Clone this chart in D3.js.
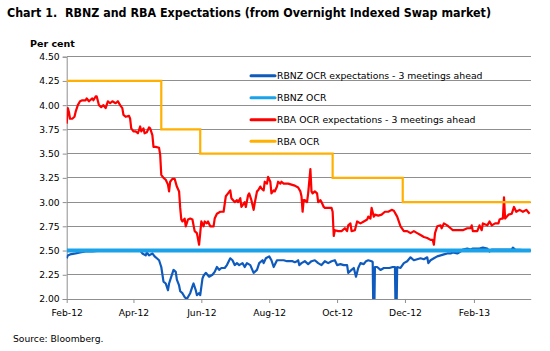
<!DOCTYPE html>
<html><head><meta charset="utf-8">
<script src="https://cdn.jsdelivr.net/npm/d3@7/dist/d3.min.js"></script>
<style>body{margin:0;background:#fff}svg{display:block}text{font-family:"DejaVu Sans",Verdana,sans-serif;fill:#000}</style>
</head><body><svg id="c" width="550" height="351"></svg>
<script>
// Dates are given as days since 1 Feb 2012
const startDate = "2012-02-01";
const endDay = 417;
const yTicks = [2.00, 2.25, 2.50, 2.75, 3.00, 3.25, 3.50, 3.75, 4.00, 4.25, 4.50];
const xTickDates = ["2012-02-01","2012-04-01","2012-06-01","2012-08-01","2012-10-01","2012-12-01","2013-02-01"];
const xTickLabels = ["Feb-12","Apr-12","Jun-12","Aug-12","Oct-12","Dec-12","Feb-13"];
const seriesNames = ["RBNZ OCR expectations - 3 meetings ahead","RBNZ OCR","RBA OCR expectations - 3 meetings ahead","RBA OCR"];
const seriesColors = ["#0f5bbd","#1ba3ea","#ff0000","#ffb000"];

const rbnzExpDays = [0,1,3,8,12,17,23,30,66,68,71,72,74,77,79,81,83,85,87,89,91,92,94,96,98,99,101,102,104,106,108,109,111,113,114,116,117,119,120,122,123,125,128,131,133,135,137,139,142,144,147,149,151,153,155,158,160,162,165,168,171,173,176,177,179,182,184,186,189,192,195,198,203,205,207,208,209,211,214,217,220,223,226,229,232,235,238,241,243,246,249,252,253,256,258,260,262,264,267,269,271,274,275,276,277,279,282,285,288,290,293,295,296,297,300,303,306,309,312,315,318,321,324,325,327,330,333,336,339,342,345,347,351,354,356,360,363,365,369,371,374,378,380,382,385,394,400,401,403,417];
const rbnzExpVals = [2.42,2.45,2.46,2.47,2.48,2.49,2.49,2.50,2.50,2.47,2.45,2.48,2.45,2.47,2.44,2.42,2.40,2.33,2.18,2.16,2.09,2.16,2.23,2.30,2.28,2.20,2.14,2.08,2.06,2.02,2.00,2.02,2.06,2.13,2.16,2.09,2.04,2.06,2.04,2.21,2.24,2.27,2.23,2.25,2.28,2.33,2.30,2.32,2.32,2.35,2.42,2.40,2.35,2.37,2.35,2.37,2.33,2.37,2.35,2.27,2.30,2.37,2.40,2.37,2.42,2.44,2.40,2.33,2.40,2.40,2.40,2.39,2.39,2.38,2.39,2.40,2.35,2.37,2.39,2.36,2.39,2.40,2.37,2.35,2.39,2.37,2.39,2.40,2.35,2.36,2.35,2.35,2.27,2.30,2.32,2.23,2.32,2.37,2.36,2.39,2.40,2.39,2.38,1.50,2.33,2.33,2.30,2.32,2.32,2.32,2.33,2.33,1.50,2.33,2.32,2.37,2.39,2.43,2.40,2.41,2.42,2.41,2.43,2.37,2.40,2.42,2.44,2.45,2.46,2.47,2.47,2.48,2.47,2.49,2.51,2.52,2.51,2.52,2.52,2.52,2.53,2.52,2.49,2.51,2.51,2.51,2.51,2.53,2.51,2.50];

const rbnzOcrDays = [0,417];
const rbnzOcrVals = [2.50,2.50];

const rbaExpDays = [0,1,2,3,5,7,8,10,12,14,17,18,20,23,24,26,27,29,31,33,35,37,39,41,44,46,48,50,51,53,56,57,58,60,62,64,66,67,69,70,72,74,75,77,78,80,83,84,85,87,89,91,92,93,95,97,99,101,102,103,104,106,107,109,111,113,115,117,119,120,121,123,124,126,127,129,132,133,135,138,141,143,145,147,148,151,153,154,156,157,160,161,163,164,166,168,169,171,172,174,175,177,178,180,181,183,184,186,187,189,190,192,193,195,196,199,202,205,208,210,211,212,213,214,216,217,219,220,221,223,225,226,228,229,231,232,235,238,239,240,241,244,247,250,252,253,255,256,259,261,264,267,270,271,273,274,276,277,280,283,286,289,292,294,297,300,303,306,309,312,315,318,321,324,327,329,330,331,333,336,337,339,342,345,347,351,354,356,360,363,364,365,369,371,373,374,378,380,382,385,388,389,391,392,393,394,397,400,402,404,407,410,413,416];
const rbaExpVals = [3.81,3.97,3.93,3.86,3.86,3.88,3.93,4.00,4.04,4.05,4.05,4.07,4.04,4.07,4.05,4.09,4.09,4.00,3.98,4.00,3.97,4.04,4.02,4.04,4.02,4.04,4.00,3.97,3.90,3.88,3.89,3.86,3.76,3.73,3.73,3.71,3.78,3.73,3.76,3.71,3.72,3.77,3.76,3.69,3.57,3.57,3.56,3.49,3.28,3.25,3.23,3.18,3.11,3.21,3.24,3.24,3.16,3.11,2.94,2.82,2.80,2.83,2.75,2.82,2.83,2.82,2.70,2.68,2.56,2.68,2.80,2.75,2.80,2.78,2.80,2.75,2.75,2.83,2.88,2.90,2.90,3.06,3.09,3.12,3.04,3.00,3.02,3.00,3.04,2.95,3.00,2.95,3.07,3.09,3.02,2.92,2.99,3.11,3.12,3.16,3.14,3.12,3.21,3.19,3.26,3.21,3.09,3.12,3.11,3.16,3.21,3.19,3.21,3.19,3.19,3.19,3.18,3.17,3.15,3.11,3.06,2.90,3.02,3.02,3.00,3.09,3.34,3.11,3.09,3.11,3.09,3.00,3.02,3.00,2.95,2.94,2.94,2.94,2.90,2.65,2.71,2.70,2.70,2.73,2.70,2.76,2.78,2.70,2.71,2.80,2.78,2.80,2.82,2.85,2.83,2.94,2.85,2.87,2.86,2.87,2.90,2.90,2.92,2.91,2.85,2.75,2.70,2.70,2.68,2.70,2.68,2.66,2.64,2.63,2.61,2.61,2.56,2.68,2.75,2.76,2.73,2.78,2.76,2.73,2.71,2.71,2.71,2.71,2.73,2.73,2.76,2.70,2.70,2.76,2.71,2.78,2.76,2.80,2.76,2.78,2.78,2.82,2.83,2.83,3.05,2.83,2.87,2.88,2.95,2.90,2.92,2.90,2.92,2.88];

const rbaOcrDays = [0,85,120,239,302,417];
const rbaOcrVals = [4.25,3.75,3.50,3.25,3.00,3.00];

const parse = d3.timeParse("%Y-%m-%d");
const t0 = parse(startDate);
const toDate = d => d3.timeDay.offset(t0, d);

const svg = d3.select("#c");
const x = d3.scaleTime().domain([t0, toDate(endDay)]).range([66.7, 530.7]);
const y = d3.scaleLinear().domain([2.0, 4.5]).range([299, 56.7]);

// title
svg.append("text").attr("x", 7).attr("y", 17).attr("font-weight", "bold").attr("font-size", 11.5)
  .style("white-space", "pre")
  .attr("textLength", 484).attr("lengthAdjust", "spacingAndGlyphs")
  .text("Chart 1.  RBNZ and RBA Expectations (from Overnight Indexed Swap market)");
svg.append("text").attr("x", 30).attr("y", 47).attr("font-weight", "bold").attr("font-size", 9.5).text("Per cent");

// gridlines
svg.append("g").selectAll("line").data(yTicks.filter(v => v > 2)).join("line")
  .attr("x1", 66.7).attr("x2", 530.7).attr("y1", d => y(d)).attr("y2", d => y(d))
  .attr("stroke", "#8f8f8f").attr("stroke-width", 1).attr("shape-rendering", "crispEdges");

// y axis
const yAxis = svg.append("g").attr("transform", "translate(66.7,0)")
  .call(d3.axisLeft(y).tickValues(yTicks).tickFormat(d3.format(".2f")).tickSize(4).tickPadding(3));
yAxis.select(".domain").attr("stroke", "#8f8f8f");
yAxis.selectAll(".tick line").attr("stroke", "#8f8f8f");
yAxis.selectAll("text").attr("font-size", 9.2).attr("font-family", "DejaVu Sans").attr("fill", "#000");

// x axis
const xAxis = svg.append("g").attr("transform", "translate(0,299)")
  .call(d3.axisBottom(x).tickValues(xTickDates.map(parse)).tickFormat((d, i) => xTickLabels[i]).tickSize(4).tickPadding(6).tickSizeOuter(0));
xAxis.select(".domain").attr("stroke", "#8f8f8f");
xAxis.selectAll(".tick line").attr("stroke", "#8f8f8f");
xAxis.selectAll("text").attr("font-size", 9.2).attr("font-family", "DejaVu Sans").attr("fill", "#000");

// clip
svg.append("clipPath").attr("id", "clip").append("rect").attr("x", 66.7).attr("y", 40).attr("width", 470).attr("height", 259);
const plot = svg.append("g").attr("clip-path", "url(#clip)");

const line = d3.line().x(d => x(toDate(d[0]))).y(d => y(d[1]));
const stepLine = d3.line().curve(d3.curveStepAfter).x(d => x(toDate(d[0]))).y(d => y(d[1]));
const zip = (a, b) => a.map((v, i) => [v, b[i]]);

plot.append("path").datum(zip(rbnzExpDays, rbnzExpVals)).attr("d", line)
  .attr("fill", "none").attr("stroke", seriesColors[0]).attr("stroke-width", 2.2).attr("stroke-linejoin", "round");
plot.append("path").datum(zip(rbnzOcrDays, rbnzOcrVals)).attr("d", line)
  .attr("fill", "none").attr("stroke", seriesColors[1]).attr("stroke-width", 4);
plot.append("path").datum(zip(rbaExpDays, rbaExpVals)).attr("d", line)
  .attr("fill", "none").attr("stroke", seriesColors[2]).attr("stroke-width", 2.2).attr("stroke-linejoin", "round");
plot.append("path").datum(zip(rbaOcrDays, rbaOcrVals)).attr("d", stepLine)
  .attr("fill", "none").attr("stroke", seriesColors[3]).attr("stroke-width", 2.2);

// legend
const lg = svg.append("g");
const rowY = [75.7, 97.7, 119.7, 141.3];
seriesNames.forEach((n, i) => {
  lg.append("line").attr("x1", 251).attr("x2", 275).attr("y1", rowY[i]).attr("y2", rowY[i])
    .attr("stroke", seriesColors[i]).attr("stroke-width", 3).attr("stroke-linecap", "round");
  lg.append("text").attr("x", 277).attr("y", rowY[i] + 3.5).attr("font-size", 9.3).text(n);
});

svg.append("text").attr("x", 13).attr("y", 342).attr("font-size", 9.2).text("Source: Bloomberg.");
</script></body></html>
